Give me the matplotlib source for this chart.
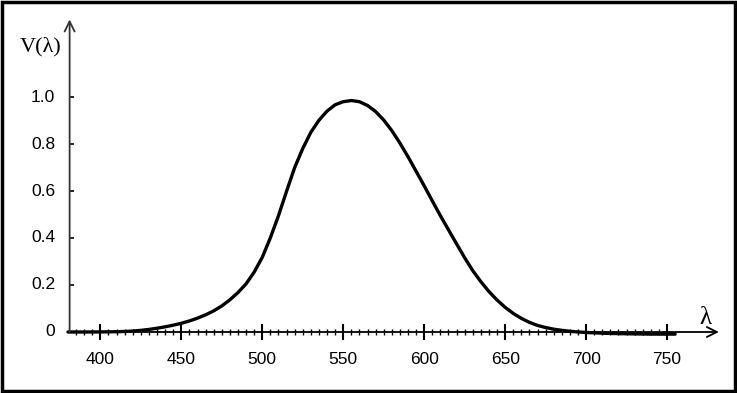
import matplotlib.pyplot as plt
from matplotlib.patches import Rectangle

# photopic luminosity curve
wavelength = [380, 385, 390, 395, 400, 405, 410, 415, 420, 425, 430, 435, 440,
              445, 450, 455, 460, 465, 470, 475, 480, 485, 490, 495, 500, 505,
              510, 515, 520, 525, 530, 535, 540, 545, 550, 555, 560, 565, 570,
              575, 580, 585, 590, 595, 600, 605, 610, 615, 620, 625, 630, 635,
              640, 645, 650, 655, 660, 665, 670, 675, 680, 685, 690, 695, 700,
              710, 720, 730, 740, 755]
v_lambda = [0.0, 0.0, 0.0, 0.0001, 0.0004, 0.0007, 0.0012, 0.0022, 0.004, 0.007,
            0.011, 0.016, 0.022, 0.029, 0.037, 0.047, 0.059, 0.073, 0.09, 0.111,
            0.137, 0.168, 0.205, 0.255, 0.318, 0.401, 0.495, 0.599, 0.70, 0.781,
            0.85, 0.901, 0.94, 0.967, 0.98, 0.985, 0.98, 0.964, 0.938, 0.902,
            0.857, 0.804, 0.746, 0.684, 0.622, 0.558, 0.495, 0.435, 0.375, 0.316,
            0.261, 0.214, 0.172, 0.136, 0.105, 0.079, 0.058, 0.041, 0.028, 0.019,
            0.012, 0.007, 0.003, 0.0, -0.002, -0.005, -0.007, -0.008, -0.009, -0.009]

x_major = [400, 450, 500, 550, 600, 650, 700, 750]
y_ticks = [0.2, 0.4, 0.6, 0.8, 1.0]
y_labels = ['0.2', '0.4', '0.6', '0.8', '1.0']

fig = plt.figure(figsize=(7.37, 3.93), dpi=100)
ax = fig.add_axes([0, 0, 1, 1])
ax.set_xlim(338.0, 793.2)
ax.set_ylim(-0.2596, 1.4128)
ax.axis('off')

sans = 'Liberation Sans'
serif = 'Liberation Serif'

# axes with arrow heads
ax.annotate('', xy=(782, 0), xytext=(380, 0),
            arrowprops=dict(arrowstyle='->', lw=1.3, color='black',
                            mutation_scale=18, shrinkA=0, shrinkB=0))
ax.annotate('', xy=(381, 1.33), xytext=(381, 0),
            arrowprops=dict(arrowstyle='->', lw=1.3, color='#333333',
                            mutation_scale=18, shrinkA=0, shrinkB=0))

# x ticks: minor every 5 nm, major every 50
minor = [m for m in range(385, 755, 5) if m not in x_major]
ax.vlines(minor, -0.013, 0.013, color='black', lw=1.0)
ax.vlines(x_major, -0.032, 0.032, color='black', lw=1.5)
for xv in x_major:
    ax.text(xv, -0.118, str(xv), ha='center', va='center',
            fontsize=12.5, family=sans)

# y ticks
ax.hlines(y_ticks, 380.4, 384, color='black', lw=1.2)
for yv, lab in zip(y_ticks, y_labels):
    ax.text(372, yv, lab, ha='right', va='center', fontsize=12.5, family=sans)
ax.text(372, 0, '0', ha='right', va='center', fontsize=12.5, family=sans)

# curve
ax.plot(wavelength, v_lambda, color='black', lw=2.4, solid_capstyle='round')

# axis labels
ax.text(363, 1.215, 'V(λ)', ha='center', va='center', fontsize=16, family=serif)
ax.text(773.5, 0.06, 'λ', ha='center', va='center', fontsize=18, family=serif)

# frame around the whole picture
fig.patches.append(Rectangle((0.003, 0.006), 0.994, 0.99, transform=fig.transFigure,
                             fill=False, lw=2.5, edgecolor='black'))

fig.savefig('out.png', dpi=100)
